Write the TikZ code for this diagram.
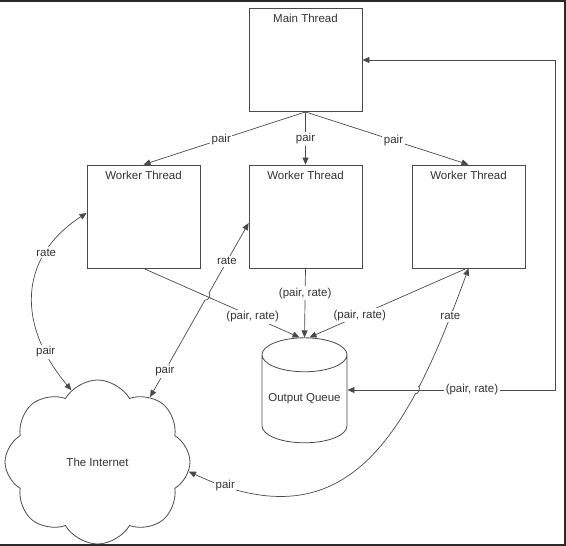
\documentclass[tikz,border=0pt]{standalone}
\usepackage{fontspec}
\setmainfont{Liberation Sans}
\usepackage{tikz}
\usetikzlibrary{arrows.meta, positioning, calc, shapes.geometric, shapes.symbols, intersections}
\definecolor{linegray}{HTML}{4A4A4A}
\definecolor{textgray}{HTML}{333333}
\definecolor{framedark}{HTML}{2A2A2A}

\begin{document}
\begin{tikzpicture}[x=1pt, y=1pt,
            font=\fontsize{11.5}{13}\selectfont, text=textgray,
            >={Triangle[length=7pt, width=6pt]},
            thr/.style={draw=linegray, line width=0.8pt, minimum width=113pt, minimum height=103pt, inner sep=0pt},
            ttl/.style={anchor=north, inner sep=0pt, yshift=-6pt},
            ln/.style={draw=linegray, line width=0.7pt},
            lbl/.style={fill=white, inner sep=1.5pt}]
            \useasboundingbox (0,0) rectangle (566,-546);
            % threads
            \node[thr, label={[ttl]north:Main Thread}] (main) at (305.5,-60) {};
            \node[thr, label={[ttl]north:Worker Thread}] (wl) at (143.5,-216.5) {};
            \node[thr, label={[ttl]north:Worker Thread}] (wm) at (305.5,-216.5) {};
            \node[thr, label={[ttl]north:Worker Thread}] (wr) at (468.5,-216.5) {};
            \node[draw=linegray, line width=0.8pt, cylinder, shape border rotate=90, aspect=0.47,
                  minimum height=105pt, minimum width=85pt, inner sep=0pt] (queue) at (304.5,-399) {Output Queue};
            \node[draw=linegray, line width=0.8pt, cloud, cloud puffs=8, cloud puff arc=120,
                  minimum width=185pt, minimum height=164pt, inner sep=0pt] (inet) at (97.5,-462) {The Internet};
            \coordinate (rt) at (555,0);
            \coordinate (mt) at ([yshift=-6.5pt]wm.west);
            \coordinate (qin) at ([yshift=9pt]queue.east);
            % main -> workers
            \draw[ln, ->] (main.south) -- node[lbl, pos=0.52] {pair} (wl.north);
            \draw[ln, ->] (main.south) -- node[lbl, pos=0.51] {pair} (wm.north);
            \draw[ln, ->] (main.south) -- node[lbl, pos=0.54] {pair} (wr.north);
            % workers -> queue
            \draw[ln, ->, name path=lq] (wl.south) -- node[lbl, pos=0.7] {(pair, rate)} ([xshift=-5pt]queue.north);
            \draw[ln, ->] (wm.south) -- node[lbl, pos=0.36] {(pair, rate)} (queue.north);
            \draw[ln, ->] ([xshift=-2pt]wr.south) -- node[lbl, pos=0.68] {(pair, rate)} ([xshift=5pt]queue.north);
            % queue <-> main
            \draw[ln, <->, name path=ret] (qin) -- node[lbl, pos=0.6] {(pair, rate)} (qin -| rt) |- (main.east);
            % internet <-> workers
            \draw[ln, <->] ([yshift=3.5pt]wl.west) to[out=213, in=130, looseness=1.2]
                node[lbl, pos=0.26] {rate} node[lbl, pos=0.8] {pair} (inet.110);
            \draw[ln, <->, name path=mid] (mt) -- node[lbl, pos=0.22] {rate} node[lbl, pos=0.85] {pair} (inet.51);
            \draw[ln, <->, name path=big] (wr.south) to[out=250, in=335, looseness=1.3]
                node[lbl, pos=0.1] {rate} node[lbl, pos=0.92] {pair} (inet.354);
            % line hops
            \path[name intersections={of=mid and lq, by=h1}];
            \path[name intersections={of=big and ret, by=h2}];
            \fill[white] (h1) circle (4pt);
            \fill[white] (h2) circle (4pt);
            \draw[ln] ($(h1)!6pt!(wl.south)$) -- ($(h1)!-6pt!(wl.south)$);
            \draw[ln] ($(h2)+(-6,0)$) -- ($(h2)+(6,0)$);
            \draw[ln] ($(h1)!4pt!(mt)$) to[bend left=90] ($(h1)!-4pt!(mt)$);
            \draw[ln] ($(h2)!4pt!(wr.south)$) to[bend left=90] ($(h2)!-4pt!(wr.south)$);
            % frame
            \draw[framedark, line width=2pt] (0,-0.5) -- (564.5,-0.5) -- (564.5,-545) -- (0,-545);
        \end{tikzpicture}
\end{document}
